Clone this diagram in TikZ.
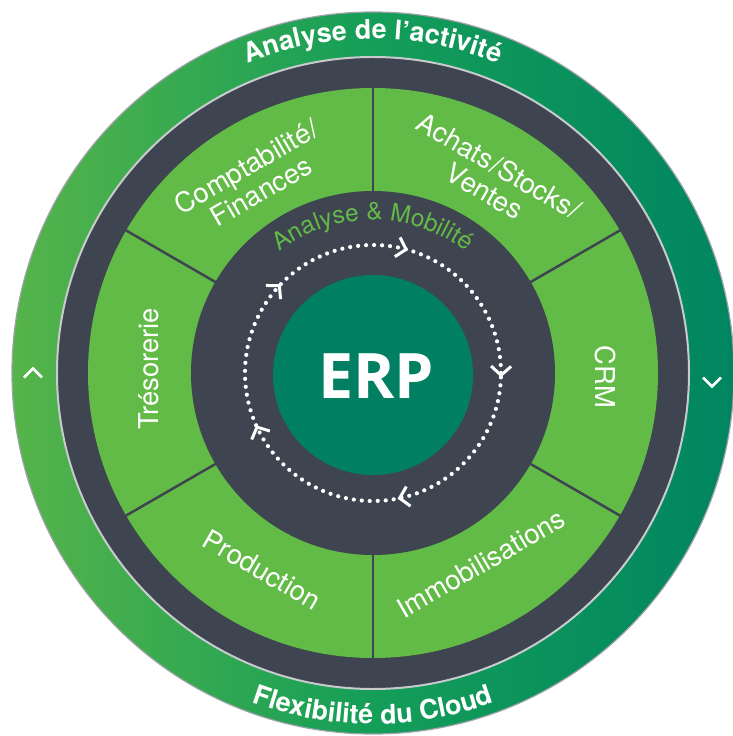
\documentclass[tikz,border=0pt]{standalone}
\usepackage{fontspec}
\setmainfont{TeX Gyre Heros}
\newfontfamily\erpfont{Open Sans}
\usetikzlibrary{decorations.text}
\definecolor{seggreen}{RGB}{98,187,70}
\definecolor{ringdark}{RGB}{62,69,80}
\definecolor{erpteal}{RGB}{0,127,98}
\definecolor{ringL}{RGB}{86,180,74}
\definecolor{ringM}{RGB}{20,158,88}
\definecolor{ringR}{RGB}{0,133,96}
\definecolor{edgegray}{RGB}{160,162,170}
\definecolor{lightline}{RGB}{200,202,206}
\newcommand\ringfont{\bfseries\fontsize{27}{27}\selectfont\color{white}}
\newcommand\innerfont{\fontsize{24.5}{24.5}\selectfont\color{seggreen}}
\begin{document}
\begin{tikzpicture}[x=1bp,y=1bp,
  segtext/.style={text=white, font=\fontsize{27.5}{29}\selectfont, align=center, inner sep=0pt},
  divider/.style={ringdark, line width=2.5bp},
  chev/.style={white, line width=2.5bp, line join=miter, line cap=butt}]
\useasboundingbox (-373,-363) rectangle (360,373);
% outer ring
\shade[left color=ringL, right color=ringR, middle color=ringM] (0,0) circle (361bp);
\draw[edgegray, line width=1.2bp] (0,0) circle (361bp);
% dark ring
\fill[ringdark] (0,0) circle (316bp);
\draw[lightline, line width=2bp] (0,0) circle (316bp);
% segments
\fill[seggreen] (0,0) circle (285bp);
\foreach \a in {30,90,...,330} \draw[divider] (\a:180bp) -- (\a:286bp);
% inner dark disc
\fill[ringdark] (0,0) circle (182bp);
% ERP core
\fill[erpteal] (0,-2) circle (100bp);
\node[text=white, font=\erpfont\bfseries\fontsize{63}{63}\selectfont, inner sep=0pt] (erp) at (3,-3) {ERP};
% dotted cycle
\draw[white, line width=4.2bp, line cap=round, dash pattern=on 0bp off 8bp] (0,0) circle (128bp);
\foreach \a in {75,-1,-78,-155,137}
  \draw[chev, line width=3bp, shift={(\a:128bp)}, rotate=\a-90] (-9,10) -- (0,0) -- (-9,-10);
% outer ring chevrons
\draw[chev] (-349,-4.5) -- (-340,4.5) -- (-331,-4.5);
\draw[chev] (330,-4.5) -- (339,-13.5) -- (348,-4.5);
% ring texts
\path[decorate, decoration={text along path, text align=center,
  text={|\ringfont|Analyse de l’activité}}]
  (165:334bp) arc[start angle=165, end angle=15, radius=334bp];
\path[decorate, decoration={text along path, text align=center,
  text={|\ringfont|Flexibilité du Cloud}}]
  (195:351bp) arc[start angle=195, end angle=345, radius=351bp];
\path[decorate, decoration={text along path, text align=center,
  text={|\innerfont|Analyse {\&} Mobilité}}]
  (160:153bp) arc[start angle=160, end angle=20, radius=153bp];
% segment labels
\node[segtext, rotate=30] (compta) at (121.5:228bp) {Comptabilité\kern2pt/\\Finances};
\node[segtext, rotate=-30] (achats) at (58.5:228bp) {Achats\kern1pt/\kern1ptStocks\kern1pt/\\Ventes};
\node[segtext, rotate=-90] (crm) at (-1:233bp) {CRM};
\node[segtext, rotate=30] (immo) at (-60.4:219bp) {Immobilisations};
\node[segtext, rotate=-30] (prod) at (-119.4:226bp) {Production};
\node[segtext, rotate=90] (treso) at (179:224bp) {Trésorerie};
\end{tikzpicture}
\end{document}
